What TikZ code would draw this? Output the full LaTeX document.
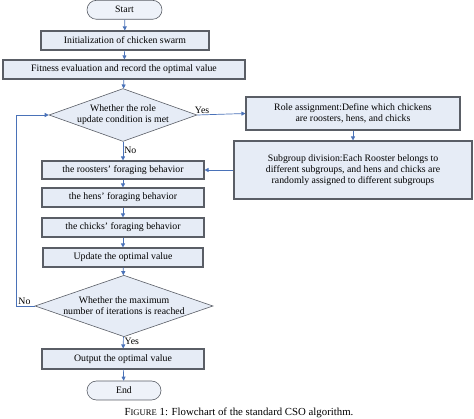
\documentclass[tikz,border=0pt]{standalone}
\usepackage{fontspec}
\setmainfont{Liberation Serif}
\usetikzlibrary{shapes.geometric,shapes.misc,arrows.meta}
\definecolor{boxfill}{HTML}{E6ECF6}
\definecolor{termfill}{HTML}{EEF2F9}
\definecolor{boxline}{HTML}{5A5E66}
\definecolor{arrowc}{HTML}{4A72B8}
\tikzset{
  txt/.style={font=\fontsize{9.8}{11.2}\selectfont},
  procbox/.style={txt, draw=boxline, line width=1.1pt, fill=boxfill, rectangle, inner sep=1pt, align=center},
  decbox/.style={txt, draw=boxline, line width=0.6pt, fill=boxfill, diamond, aspect=2.8, inner sep=0pt, align=center},
  termbox/.style={txt, draw=boxline, line width=0.6pt, fill=termfill, rounded rectangle, inner sep=1pt},
  flow/.style={draw=arrowc, line width=0.7pt, -{Triangle[length=4pt,width=4pt]}},
  lab/.style={txt, inner sep=1pt}
}
\begin{document}
\begin{tikzpicture}[x=1pt,y=-1pt]
\useasboundingbox (0,0) rectangle (474,419);
\node[termbox, minimum width=77pt, minimum height=19pt] (start) at (124.5,9.8) {Start};
\node[procbox, minimum width=168pt, minimum height=19pt] (init) at (125,40.5) {Initialization of chicken swarm};
\node[procbox, minimum width=242pt, minimum height=19pt] (fit) at (124,69.5) {Fitness evaluation and record the optimal value};
\node[decbox, minimum width=146pt, minimum height=52pt] (d1) at (123,115) {Whether the role\\update condition is met};
\node[procbox, minimum width=214pt, minimum height=33pt] (role) at (353,113.5) {Role assignment:Define which chickens\\are roosters, hens, and chicks};
\node[procbox, minimum width=238pt, minimum height=58pt] (sub) at (353,170) {Subgroup division:Each Rooster belongs to\\different subgroups, and hens and chicks are\\randomly assigned to different subgroups};
\node[procbox, minimum width=162pt, minimum height=18pt] (roo) at (123,170) {the roosters' foraging behavior};
\node[procbox, minimum width=162pt, minimum height=19pt] (hen) at (123,197.5) {the hens' foraging behavior};
\node[procbox, minimum width=162pt, minimum height=19pt] (chi) at (123,227.5) {the chicks' foraging behavior};
\node[procbox, minimum width=160pt, minimum height=19pt] (upd) at (123,257.5) {Update the optimal value};
\node[decbox, minimum width=178pt, minimum height=56pt] (d2) at (124,306) {Whether the maximum\\number of iterations is reached};
\node[procbox, minimum width=162pt, minimum height=20pt] (out) at (123,359) {Output the optimal value};
\node[termbox, minimum width=76pt, minimum height=19pt] (end) at (124,390.5) {End};
\coordinate (lb) at (16,306);
\coordinate (lt) at (16,115);
\draw[flow] (start) -- (init);
\draw[flow] (init) -- (fit);
\draw[flow] (fit) -- (d1);
\draw[flow] (d1) -- node[lab, right, pos=0.45] {No} (roo);
\draw[flow] (roo) -- (hen);
\draw[flow] (hen) -- (chi);
\draw[flow] (chi) -- (upd);
\draw[flow] (upd) -- (d2);
\draw[flow] (d2) -- node[lab, right, pos=0.4] {Yes} (out);
\draw[flow] (out) -- (end);
\draw[flow] (d1.east) -- node[lab, above, pos=0.1] {Yes} (role.west);
\draw[flow] (role) -- (sub);
\draw[flow] (sub.west) -- (roo.east);
\draw[flow] (d2.west) -- node[lab, above, pos=0.55] {No} (lb) -- (lt) -- (d1.west);
\node[inner sep=1pt, font=\fontsize{10.8}{12}\selectfont] (cap) at (239,412.5) {F{\fontsize{8.6}{10}\selectfont IGURE} 1: Flowchart of the standard CSO algorithm.};
\end{tikzpicture}
\end{document}
